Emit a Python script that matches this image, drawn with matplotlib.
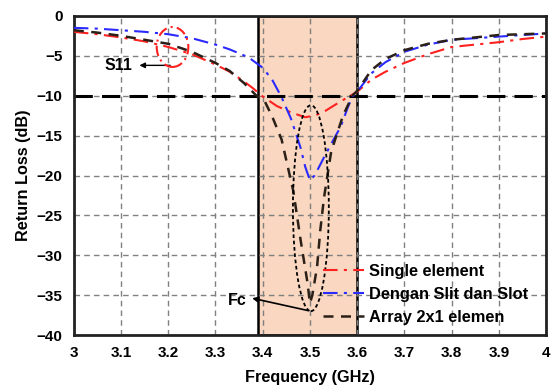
import matplotlib.pyplot as plt
from matplotlib.patches import Ellipse

plt.rcParams['font.family'] = ['Liberation Sans', 'DejaVu Sans']
plt.rcParams['font.weight'] = 'bold'

# frequency (GHz) and return loss (dB)
freq_single = [3.0, 3.05, 3.1, 3.15, 3.2, 3.25, 3.3, 3.33, 3.36, 3.38, 3.40, 3.43, 3.46,
               3.49, 3.51, 3.53, 3.56, 3.58, 3.6, 3.63, 3.66, 3.7, 3.75, 3.8, 3.85, 3.9, 3.95, 4.0]
rl_single = [-2.0, -2.3, -2.7, -3.2, -3.9, -4.8, -6.1, -7.0, -8.2, -9.1, -10.1, -11.3, -12.1,
             -12.7, -12.5, -12.0, -10.9, -10.2, -9.5, -8.0, -7.0, -5.9, -4.8, -3.9, -3.6, -3.3, -2.9, -2.6]

freq_slot = [3.0, 3.05, 3.1, 3.15, 3.2, 3.25, 3.3, 3.33, 3.37, 3.40, 3.42, 3.44, 3.46, 3.48,
             3.49, 3.50, 3.51, 3.53, 3.55, 3.565, 3.58, 3.59, 3.6, 3.63, 3.66, 3.7, 3.75, 3.8, 3.85, 3.9, 3.95, 4.0]
rl_slot = [-1.5, -1.6, -1.8, -2.0, -2.3, -2.8, -3.6, -4.2, -5.2, -6.5, -8.0, -10.2, -12.9, -16.5,
           -18.9, -20.6, -20.0, -17.7, -15.5, -13.9, -11.5, -10.1, -9.5, -7.2, -5.8, -4.5, -3.6, -3.0, -2.8, -2.6, -2.4, -2.2]

freq_array = [3.0, 3.05, 3.1, 3.15, 3.2, 3.25, 3.3, 3.33, 3.36, 3.385, 3.405, 3.42, 3.44, 3.465,
              3.48, 3.495, 3.50, 3.505, 3.515, 3.522, 3.53, 3.545, 3.57, 3.59, 3.6, 3.63, 3.66, 3.7,
              3.75, 3.8, 3.85, 3.9, 3.95, 4.0]
rl_array = [-1.8, -2.1, -2.5, -3.0, -3.5, -4.5, -5.9, -6.9, -8.4, -9.9, -10.8, -12.6, -15.5, -22.0,
            -28.0, -33.5, -36.0, -35.0, -31.5, -26.8, -22.7, -17.0, -12.5, -10.0, -9.4, -6.8, -5.4, -4.3,
            -3.5, -3.0, -2.7, -2.4, -2.3, -2.2]

band = (3.39, 3.6)

fig = plt.figure(figsize=(5.51, 3.87), dpi=100)
ax = fig.add_axes([0.134, 0.134, 0.857, 0.825])

ax.axvspan(band[0], band[1], facecolor='#f9d7c0', edgecolor='black', linewidth=1.8, zorder=0)
ax.grid(True, color='#808080', linestyle=(0, (4, 3)), linewidth=1, zorder=1)
ax.axhline(-10, color='black', linestyle=(0, (6, 3)), linewidth=2.2, zorder=2)

ax.plot(freq_single, rl_single, color='#ff2020', linestyle=(0, (7, 3, 1.5, 3)), linewidth=1.5,
        label='Single element', zorder=3)
ax.plot(freq_slot, rl_slot, color='#2a2aff', linestyle=(0, (7, 3, 1.5, 3)), linewidth=1.5,
        label='Dengan Slit dan Slot', zorder=3)
ax.plot(freq_array, rl_array, color='#2b2018', linestyle=(0, (4, 3)), linewidth=1.8,
        label='Array 2x1 elemen', zorder=3)

# markers around S11 and Fc
ax.add_patch(Ellipse((3.209, -3.9), 0.067, 5.0, fill=False, edgecolor='#ff2020',
                     linestyle=(0, (5, 2, 1, 2)), linewidth=1.5, zorder=4))
ax.add_patch(Ellipse((3.502, -24.1), 0.076, 25.8, fill=False, edgecolor='black',
                     linestyle=(0, (2, 1.5)), linewidth=1.3, zorder=4))
ax.annotate('', xy=(3.133, -6.2), xytext=(3.21, -6.2),
            arrowprops=dict(arrowstyle='-|>', color='black', lw=1, mutation_scale=8))
ax.text(3.125, -6.2, 'S11', ha='right', va='center', fontsize=11.5, fontweight='bold')
ax.annotate('', xy=(3.372, -35.3), xytext=(3.502, -37.0),
            arrowprops=dict(arrowstyle='-|>', color='black', lw=1.2, mutation_scale=8))
ax.text(3.366, -35.6, 'Fc', ha='right', va='center', fontsize=11.5, fontweight='bold')

ax.set_xlim(3, 4)
ax.set_ylim(-40, 0)
ax.set_xticks([3, 3.1, 3.2, 3.3, 3.4, 3.5, 3.6, 3.7, 3.8, 3.9, 4])
ax.set_xticklabels(['3', '3.1', '3.2', '3.3', '3.4', '3.5', '3.6', '3.7', '3.8', '3.9', '4'])
ax.set_yticks(range(-40, 1, 5))
ax.tick_params(axis='both', length=0, labelsize=11, pad=8)
for lbl in ax.get_xticklabels() + ax.get_yticklabels():
    lbl.set_fontweight('bold')
for sp in ax.spines.values():
    sp.set_linewidth(2)
    sp.set_color('#222222')

ax.set_xlabel('Frequency (GHz)', fontsize=11.7, fontweight='bold', labelpad=7)
ax.set_ylabel('Return Loss (dB)', fontsize=11.7, fontweight='bold', labelpad=4)

leg = ax.legend(loc='lower left', bbox_to_anchor=(0.50, -0.01), frameon=False,
                handlelength=2.5, handletextpad=0.3, labelspacing=0.5, borderpad=0.3,
                prop={'weight': 'bold', 'size': 11.8})

fig.savefig('out.png', dpi=100)
